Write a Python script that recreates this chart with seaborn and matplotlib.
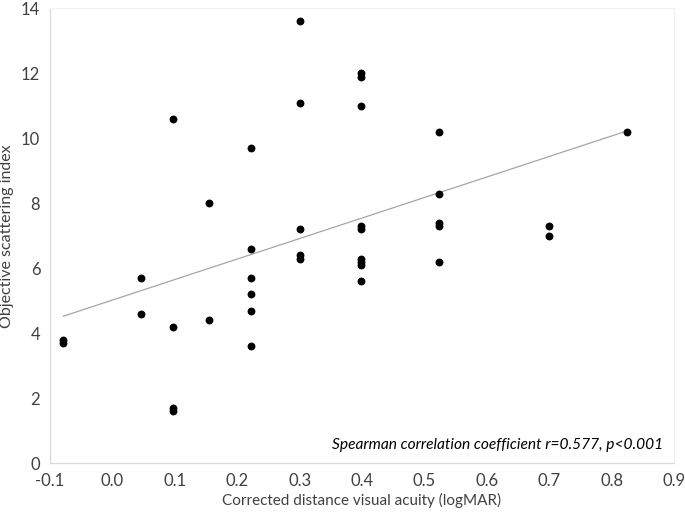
import numpy as np
import pandas as pd
import matplotlib.pyplot as plt
import seaborn as sns

# data
cdva = [-0.079, -0.079,
        0.046, 0.046,
        0.097, 0.097, 0.097, 0.097,
        0.155, 0.155,
        0.222, 0.222, 0.222, 0.222, 0.222, 0.222,
        0.301, 0.301, 0.301, 0.301, 0.301,
        0.398, 0.398, 0.398, 0.398, 0.398, 0.398, 0.398, 0.398, 0.398,
        0.523, 0.523, 0.523, 0.523, 0.523,
        0.699, 0.699,
        0.824]
osi = [3.8, 3.7,
       5.7, 4.6,
       10.6, 4.2, 1.7, 1.6,
       8.0, 4.4,
       9.7, 6.6, 5.7, 5.2, 4.7, 3.6,
       13.6, 11.1, 7.2, 6.4, 6.3,
       12.0, 11.9, 11.0, 7.3, 7.2, 6.3, 6.2, 6.1, 5.6,
       10.2, 8.3, 7.4, 7.3, 6.2,
       7.3, 7.0,
       10.2]
x_ticks = [-0.1, 0.0, 0.1, 0.2, 0.3, 0.4, 0.5, 0.6, 0.7, 0.8, 0.9]
y_ticks = [0, 2, 4, 6, 8, 10, 12, 14]

df = pd.DataFrame({'cdva': cdva, 'osi': osi})

sns.set_style('white')
plt.rcParams['font.family'] = ['Lato', 'DejaVu Sans']

fig = plt.figure(figsize=(6.85, 5.16), dpi=100)
ax = fig.add_axes([0.073, 0.102, 0.911, 0.882])

sns.regplot(data=df, x='cdva', y='osi', ax=ax, ci=None, truncate=True,
            scatter_kws={'color': 'black', 'alpha': 1, 's': 32, 'linewidths': 0, 'zorder': 3},
            line_kws={'color': '#a6a6a6', 'linewidth': 0.9, 'zorder': 2})

ax.set_xlim(-0.1, 0.9)
ax.set_ylim(0, 14)
ax.set_xticks(x_ticks)
ax.set_xticklabels([f'{t:.1f}' for t in x_ticks])
ax.set_yticks(y_ticks)
ax.tick_params(axis='x', direction='out', length=4, width=0.8, color='#d9d9d9',
               labelsize=12, labelcolor='#404040', pad=3)
ax.tick_params(axis='y', length=0, labelsize=12, labelcolor='#404040', pad=7)
ax.grid(False)

for side in ['left', 'bottom']:
    ax.spines[side].set_color('#d9d9d9')
    ax.spines[side].set_linewidth(0.9)
for side in ['top', 'right']:
    ax.spines[side].set_color('#f2f2f2')
    ax.spines[side].set_linewidth(0.8)

ax.set_xlabel('Corrected distance visual acuity (logMAR)', fontsize=11, color='#404040', labelpad=3)
ax.set_ylabel('Objective scattering index', fontsize=11.5, color='#404040')
ax.yaxis.set_label_coords(-0.058, 0.5)

ax.text(0.983, 0.025, 'Spearman correlation coefficient r=0.577, p<0.001',
        transform=ax.transAxes, ha='right', va='bottom', fontsize=11.2,
        style='italic', color='black')

plt.savefig('out.png', dpi=100)
